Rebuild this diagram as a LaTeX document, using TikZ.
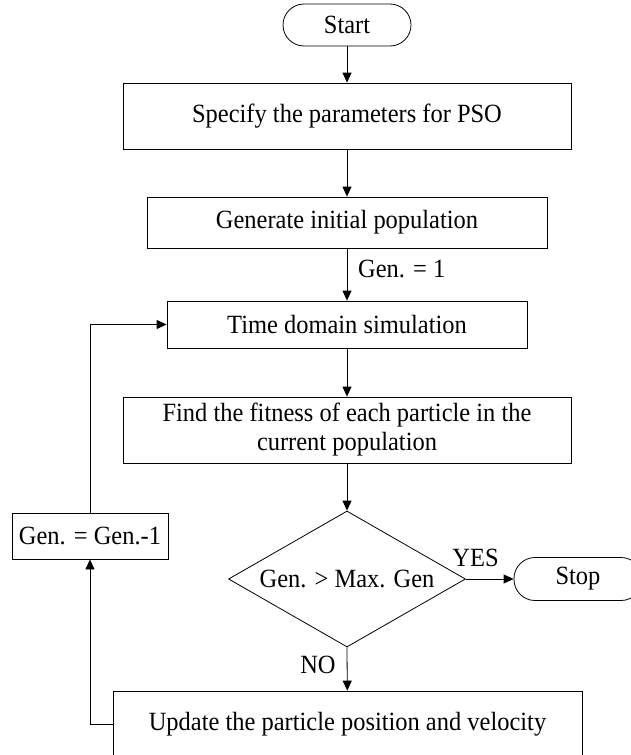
\documentclass[tikz,border=0pt]{standalone}
\usepackage{fontspec}
\setmainfont[FakeStretch=0.93]{Liberation Serif}
\usetikzlibrary{shapes.geometric,arrows.meta}
\begin{document}
\begin{tikzpicture}[x=1pt,y=-1pt,
  every node/.style={font=\fontsize{26.3pt}{29pt}\selectfont, inner sep=0pt},
  procbox/.style={draw, line width=0.8pt, rectangle, align=center},
  termbox/.style={draw, line width=0.8pt, rectangle, rounded corners=21pt, minimum width=128pt},
  decbox/.style={draw, line width=0.8pt, diamond, aspect=1.74, minimum width=237pt, minimum height=136pt},
  conn/.style={line width=0.8pt, -{Triangle[length=10pt,width=9pt]}},
  plainline/.style={line width=0.8pt}]
\useasboundingbox (0,0) rectangle (630,755);

\node[termbox, minimum height=42pt] (start) at (347,25) {Start};
\node[procbox, minimum width=448pt, minimum height=66pt] (spec) at (347,116) {Specify the parameters for PSO};
\node[procbox, minimum width=400pt, minimum height=51pt] (gen) at (347,222.5) {Generate initial population};
\node[procbox, minimum width=360pt, minimum height=47pt] (sim) at (347,324.5) {Time domain simulation};
\node[procbox, minimum width=448pt, minimum height=66pt] (fit) at (347,430) {Find the fitness of each particle in the\\current population};
\node[decbox] (dec) at (347,579) {Gen. > Max. Gen};
\node[termbox, minimum height=43pt] (stop) at (578,579) {Stop};
\node[procbox, minimum width=469pt, minimum height=66pt] (upd) at (347.5,724) {Update the particle position and velocity};
\node[procbox, minimum width=156pt, minimum height=46pt] (dec1) at (90,536) {Gen. = Gen.-1};

\node[anchor=west] (gen1lbl) at (358,269) {Gen. = 1};
\node (yeslbl) at (475.5,558) {YES};
\node (nolbl) at (318,665) {NO};

\coordinate (c1) at (90,724);
\coordinate (c2) at (90,324.5);

\draw[conn] (start) -- (spec);
\draw[conn] (spec) -- (gen);
\draw[conn] (gen) -- (sim);
\draw[conn] (sim) -- (fit);
\draw[conn] (fit) -- (dec.north);
\draw[conn] (dec.east) -- (stop.west);
\draw[conn] (dec.south) -- (upd);
\draw[conn] (upd.west) -- (c1) -- (dec1.south);
\draw[conn] (dec1.north) -- (c2) -- (sim.west);
\end{tikzpicture}
\end{document}
